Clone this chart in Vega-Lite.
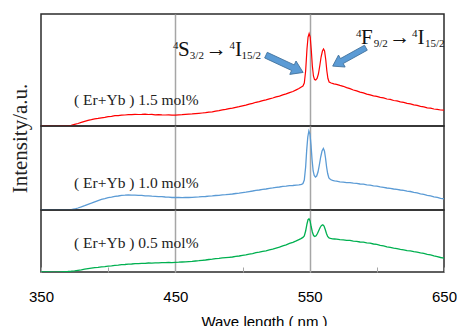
{
  "$schema": "https://vega.github.io/schema/vega-lite/v6.json",
  "padding": {"left": 8, "top": 13, "right": 0, "bottom": 0},
  "spacing": 0,
  "bounds": "flush",
  "config": {"view": {"stroke": "#2b2b2b", "strokeWidth": 1.5}, "font": "Liberation Serif"},
  "datasets": {
    "spectra": [
      {"wl":350,"I":0,"s":"1.5"},{"wl":355,"I":0.1,"s":"1.5"},{"wl":360,"I":0,"s":"1.5"},{"wl":365,"I":0.1,"s":"1.5"},{"wl":370,"I":0.3,"s":"1.5"},{"wl":372.5,"I":0.6,"s":"1.5"},{"wl":375,"I":1.6,"s":"1.5"},{"wl":377.5,"I":2.5,"s":"1.5"},{"wl":380,"I":3.6,"s":"1.5"},{"wl":382.5,"I":4.6,"s":"1.5"},{"wl":385,"I":5.6,"s":"1.5"},{"wl":387.5,"I":6.3,"s":"1.5"},{"wl":390,"I":7.1,"s":"1.5"},{"wl":392.5,"I":7.6,"s":"1.5"},{"wl":395,"I":8.2,"s":"1.5"},{"wl":397.5,"I":8.7,"s":"1.5"},{"wl":400,"I":9.3,"s":"1.5"},{"wl":402.5,"I":9.6,"s":"1.5"},{"wl":405,"I":10.3,"s":"1.5"},{"wl":407.5,"I":10.4,"s":"1.5"},{"wl":410,"I":10.9,"s":"1.5"},{"wl":412.5,"I":11.0,"s":"1.5"},{"wl":415,"I":11.4,"s":"1.5"},{"wl":417.5,"I":11.3,"s":"1.5"},{"wl":420,"I":11.7,"s":"1.5"},{"wl":422.5,"I":11.5,"s":"1.5"},{"wl":425,"I":11.6,"s":"1.5"},{"wl":427.5,"I":11.8,"s":"1.5"},{"wl":430,"I":11.5,"s":"1.5"},{"wl":432.5,"I":11.6,"s":"1.5"},{"wl":435,"I":11.2,"s":"1.5"},{"wl":437.5,"I":11.4,"s":"1.5"},{"wl":440,"I":11.1,"s":"1.5"},{"wl":442.5,"I":11.0,"s":"1.5"},{"wl":445,"I":11.2,"s":"1.5"},{"wl":447.5,"I":10.8,"s":"1.5"},{"wl":450,"I":10.9,"s":"1.5"},{"wl":452.5,"I":11.2,"s":"1.5"},{"wl":455,"I":11.3,"s":"1.5"},{"wl":457.5,"I":11.7,"s":"1.5"},{"wl":460,"I":11.9,"s":"1.5"},{"wl":462.5,"I":12.1,"s":"1.5"},{"wl":465,"I":12.4,"s":"1.5"},{"wl":467.5,"I":12.7,"s":"1.5"},{"wl":470,"I":13.0,"s":"1.5"},{"wl":472.5,"I":13.3,"s":"1.5"},{"wl":475,"I":13.9,"s":"1.5"},{"wl":477.5,"I":14.2,"s":"1.5"},{"wl":480,"I":14.9,"s":"1.5"},{"wl":482.5,"I":15.4,"s":"1.5"},{"wl":485,"I":16.1,"s":"1.5"},{"wl":487.5,"I":16.6,"s":"1.5"},{"wl":490,"I":17.4,"s":"1.5"},{"wl":492.5,"I":17.9,"s":"1.5"},{"wl":495,"I":18.7,"s":"1.5"},{"wl":497.5,"I":19.3,"s":"1.5"},{"wl":500,"I":20.1,"s":"1.5"},{"wl":502.5,"I":20.9,"s":"1.5"},{"wl":505,"I":21.9,"s":"1.5"},{"wl":507.5,"I":22.6,"s":"1.5"},{"wl":510,"I":23.7,"s":"1.5"},{"wl":512.5,"I":24.4,"s":"1.5"},{"wl":515,"I":25.4,"s":"1.5"},{"wl":517.5,"I":26.1,"s":"1.5"},{"wl":520,"I":27.1,"s":"1.5"},{"wl":522.5,"I":28.0,"s":"1.5"},{"wl":525,"I":29.1,"s":"1.5"},{"wl":527.5,"I":29.9,"s":"1.5"},{"wl":530,"I":31.1,"s":"1.5"},{"wl":532.5,"I":32.1,"s":"1.5"},{"wl":535,"I":33.4,"s":"1.5"},{"wl":537.5,"I":34.5,"s":"1.5"},{"wl":540,"I":36.1,"s":"1.5"},{"wl":542,"I":37.4,"s":"1.5"},{"wl":543.5,"I":38.8,"s":"1.5"},{"wl":545,"I":40,"s":"1.5"},{"wl":546,"I":43,"s":"1.5"},{"wl":547,"I":55,"s":"1.5"},{"wl":548,"I":77,"s":"1.5"},{"wl":548.8,"I":89,"s":"1.5"},{"wl":549.6,"I":92.5,"s":"1.5"},{"wl":550.4,"I":89,"s":"1.5"},{"wl":551.2,"I":76,"s":"1.5"},{"wl":552,"I":60,"s":"1.5"},{"wl":552.8,"I":50,"s":"1.5"},{"wl":553.6,"I":46.5,"s":"1.5"},{"wl":554.5,"I":46,"s":"1.5"},{"wl":555.5,"I":47.5,"s":"1.5"},{"wl":556.5,"I":52,"s":"1.5"},{"wl":557.5,"I":60,"s":"1.5"},{"wl":558.5,"I":69,"s":"1.5"},{"wl":559.5,"I":75,"s":"1.5"},{"wl":560.3,"I":77,"s":"1.5"},{"wl":561.1,"I":75,"s":"1.5"},{"wl":562,"I":66,"s":"1.5"},{"wl":562.8,"I":55,"s":"1.5"},{"wl":563.6,"I":47.5,"s":"1.5"},{"wl":564.5,"I":44,"s":"1.5"},{"wl":566,"I":43,"s":"1.5"},{"wl":568,"I":42.1,"s":"1.5"},{"wl":570,"I":41.6,"s":"1.5"},{"wl":572.5,"I":40.6,"s":"1.5"},{"wl":575,"I":39.7,"s":"1.5"},{"wl":577.5,"I":38.4,"s":"1.5"},{"wl":580,"I":37.4,"s":"1.5"},{"wl":582.5,"I":36.0,"s":"1.5"},{"wl":585,"I":35.1,"s":"1.5"},{"wl":587.5,"I":33.9,"s":"1.5"},{"wl":590,"I":33.1,"s":"1.5"},{"wl":592.5,"I":31.9,"s":"1.5"},{"wl":595,"I":31.1,"s":"1.5"},{"wl":597.5,"I":30.1,"s":"1.5"},{"wl":600,"I":29.6,"s":"1.5"},{"wl":602.5,"I":28.6,"s":"1.5"},{"wl":605,"I":28.1,"s":"1.5"},{"wl":607.5,"I":27.0,"s":"1.5"},{"wl":610,"I":26.6,"s":"1.5"},{"wl":612.5,"I":25.5,"s":"1.5"},{"wl":615,"I":25.1,"s":"1.5"},{"wl":617.5,"I":24.1,"s":"1.5"},{"wl":620,"I":23.6,"s":"1.5"},{"wl":622.5,"I":22.6,"s":"1.5"},{"wl":625,"I":22.1,"s":"1.5"},{"wl":627.5,"I":21.1,"s":"1.5"},{"wl":630,"I":20.6,"s":"1.5"},{"wl":632.5,"I":19.6,"s":"1.5"},{"wl":635,"I":19.1,"s":"1.5"},{"wl":637.5,"I":18.2,"s":"1.5"},{"wl":640,"I":17.8,"s":"1.5"},{"wl":642.5,"I":17.0,"s":"1.5"},{"wl":645,"I":16.6,"s":"1.5"},{"wl":647.5,"I":16.0,"s":"1.5"},{"wl":650,"I":15.8,"s":"1.5"},

      {"wl":350,"I":0,"s":"1.0"},{"wl":355,"I":0,"s":"1.0"},{"wl":360,"I":0.1,"s":"1.0"},{"wl":365,"I":0,"s":"1.0"},{"wl":370,"I":0.2,"s":"1.0"},{"wl":372.5,"I":0.4,"s":"1.0"},{"wl":375,"I":1.0,"s":"1.0"},{"wl":377.5,"I":2.0,"s":"1.0"},{"wl":380,"I":3.1,"s":"1.0"},{"wl":382.5,"I":4.3,"s":"1.0"},{"wl":385,"I":5.6,"s":"1.0"},{"wl":387.5,"I":6.8,"s":"1.0"},{"wl":390,"I":8.1,"s":"1.0"},{"wl":392.5,"I":9.4,"s":"1.0"},{"wl":395,"I":10.6,"s":"1.0"},{"wl":397.5,"I":11.4,"s":"1.0"},{"wl":400,"I":12.3,"s":"1.0"},{"wl":402.5,"I":12.9,"s":"1.0"},{"wl":405,"I":13.6,"s":"1.0"},{"wl":407.5,"I":14.0,"s":"1.0"},{"wl":410,"I":14.6,"s":"1.0"},{"wl":412.5,"I":14.8,"s":"1.0"},{"wl":415,"I":15.1,"s":"1.0"},{"wl":417.5,"I":14.9,"s":"1.0"},{"wl":420,"I":14.9,"s":"1.0"},{"wl":422.5,"I":14.6,"s":"1.0"},{"wl":425,"I":14.6,"s":"1.0"},{"wl":427.5,"I":14.2,"s":"1.0"},{"wl":430,"I":14.1,"s":"1.0"},{"wl":432.5,"I":13.8,"s":"1.0"},{"wl":435,"I":13.7,"s":"1.0"},{"wl":437.5,"I":13.4,"s":"1.0"},{"wl":440,"I":13.3,"s":"1.0"},{"wl":442.5,"I":13.0,"s":"1.0"},{"wl":445,"I":12.9,"s":"1.0"},{"wl":447.5,"I":12.5,"s":"1.0"},{"wl":450,"I":12.5,"s":"1.0"},{"wl":452.5,"I":12.7,"s":"1.0"},{"wl":455,"I":12.4,"s":"1.0"},{"wl":457.5,"I":12.6,"s":"1.0"},{"wl":460,"I":12.5,"s":"1.0"},{"wl":462.5,"I":12.7,"s":"1.0"},{"wl":465,"I":12.9,"s":"1.0"},{"wl":467.5,"I":13.1,"s":"1.0"},{"wl":470,"I":13.4,"s":"1.0"},{"wl":472.5,"I":13.5,"s":"1.0"},{"wl":475,"I":13.9,"s":"1.0"},{"wl":477.5,"I":14.1,"s":"1.0"},{"wl":480,"I":14.5,"s":"1.0"},{"wl":482.5,"I":14.7,"s":"1.0"},{"wl":485,"I":15.1,"s":"1.0"},{"wl":487.5,"I":15.3,"s":"1.0"},{"wl":490,"I":15.7,"s":"1.0"},{"wl":492.5,"I":16.0,"s":"1.0"},{"wl":495,"I":16.5,"s":"1.0"},{"wl":497.5,"I":16.8,"s":"1.0"},{"wl":500,"I":17.3,"s":"1.0"},{"wl":502.5,"I":17.8,"s":"1.0"},{"wl":505,"I":18.4,"s":"1.0"},{"wl":507.5,"I":19.0,"s":"1.0"},{"wl":510,"I":19.7,"s":"1.0"},{"wl":512.5,"I":20.0,"s":"1.0"},{"wl":515,"I":20.7,"s":"1.0"},{"wl":517.5,"I":21.0,"s":"1.0"},{"wl":520,"I":21.6,"s":"1.0"},{"wl":522.5,"I":22.1,"s":"1.0"},{"wl":525,"I":22.7,"s":"1.0"},{"wl":527.5,"I":23.0,"s":"1.0"},{"wl":530,"I":23.6,"s":"1.0"},{"wl":532.5,"I":23.8,"s":"1.0"},{"wl":535,"I":24.3,"s":"1.0"},{"wl":537.5,"I":24.5,"s":"1.0"},{"wl":540,"I":24.9,"s":"1.0"},{"wl":542,"I":25.2,"s":"1.0"},{"wl":544,"I":25.6,"s":"1.0"},{"wl":545,"I":26.5,"s":"1.0"},{"wl":546,"I":30,"s":"1.0"},{"wl":547,"I":43,"s":"1.0"},{"wl":547.8,"I":60,"s":"1.0"},{"wl":548.6,"I":73,"s":"1.0"},{"wl":549.4,"I":79,"s":"1.0"},{"wl":550.2,"I":76,"s":"1.0"},{"wl":551,"I":65,"s":"1.0"},{"wl":551.8,"I":50,"s":"1.0"},{"wl":552.6,"I":39,"s":"1.0"},{"wl":553.4,"I":34.5,"s":"1.0"},{"wl":554.3,"I":33,"s":"1.0"},{"wl":555.2,"I":34,"s":"1.0"},{"wl":556.2,"I":38,"s":"1.0"},{"wl":557.2,"I":45,"s":"1.0"},{"wl":558.2,"I":53,"s":"1.0"},{"wl":559.2,"I":59,"s":"1.0"},{"wl":560.2,"I":61.5,"s":"1.0"},{"wl":561,"I":59,"s":"1.0"},{"wl":561.8,"I":52,"s":"1.0"},{"wl":562.6,"I":43,"s":"1.0"},{"wl":563.4,"I":36.5,"s":"1.0"},{"wl":564.3,"I":32,"s":"1.0"},{"wl":565.5,"I":30.5,"s":"1.0"},{"wl":567,"I":29.6,"s":"1.0"},{"wl":568.5,"I":29.1,"s":"1.0"},{"wl":570,"I":28.8,"s":"1.0"},{"wl":572.5,"I":28.2,"s":"1.0"},{"wl":575,"I":27.9,"s":"1.0"},{"wl":577.5,"I":27.4,"s":"1.0"},{"wl":580,"I":27.4,"s":"1.0"},{"wl":582.5,"I":26.8,"s":"1.0"},{"wl":585,"I":26.6,"s":"1.0"},{"wl":587.5,"I":26.0,"s":"1.0"},{"wl":590,"I":25.8,"s":"1.0"},{"wl":592.5,"I":25.1,"s":"1.0"},{"wl":595,"I":24.9,"s":"1.0"},{"wl":597.5,"I":24.2,"s":"1.0"},{"wl":600,"I":23.9,"s":"1.0"},{"wl":602.5,"I":23.1,"s":"1.0"},{"wl":605,"I":22.7,"s":"1.0"},{"wl":607.5,"I":22.0,"s":"1.0"},{"wl":610,"I":21.7,"s":"1.0"},{"wl":612.5,"I":21.0,"s":"1.0"},{"wl":615,"I":20.7,"s":"1.0"},{"wl":617.5,"I":20.0,"s":"1.0"},{"wl":620,"I":19.7,"s":"1.0"},{"wl":622.5,"I":18.9,"s":"1.0"},{"wl":625,"I":18.5,"s":"1.0"},{"wl":627.5,"I":17.6,"s":"1.0"},{"wl":630,"I":17.1,"s":"1.0"},{"wl":632.5,"I":16.2,"s":"1.0"},{"wl":635,"I":15.6,"s":"1.0"},{"wl":637.5,"I":14.7,"s":"1.0"},{"wl":640,"I":14.1,"s":"1.0"},{"wl":642.5,"I":13.2,"s":"1.0"},{"wl":645,"I":12.6,"s":"1.0"},{"wl":647.5,"I":11.7,"s":"1.0"},{"wl":650,"I":11.1,"s":"1.0"},

      {"wl":350,"I":0,"s":"0.5"},{"wl":355,"I":0,"s":"0.5"},{"wl":360,"I":-0.1,"s":"0.5"},{"wl":365,"I":0.2,"s":"0.5"},{"wl":370,"I":0.5,"s":"0.5"},{"wl":372.5,"I":0.8,"s":"0.5"},{"wl":375,"I":1.2,"s":"0.5"},{"wl":377.5,"I":1.7,"s":"0.5"},{"wl":380,"I":2.2,"s":"0.5"},{"wl":382.5,"I":2.8,"s":"0.5"},{"wl":385,"I":3.3,"s":"0.5"},{"wl":387.5,"I":3.8,"s":"0.5"},{"wl":390,"I":4.3,"s":"0.5"},{"wl":392.5,"I":4.6,"s":"0.5"},{"wl":395,"I":5.1,"s":"0.5"},{"wl":397.5,"I":5.4,"s":"0.5"},{"wl":400,"I":5.9,"s":"0.5"},{"wl":402.5,"I":6.1,"s":"0.5"},{"wl":405,"I":6.6,"s":"0.5"},{"wl":407.5,"I":6.8,"s":"0.5"},{"wl":410,"I":7.3,"s":"0.5"},{"wl":412.5,"I":7.5,"s":"0.5"},{"wl":415,"I":7.9,"s":"0.5"},{"wl":417.5,"I":8.0,"s":"0.5"},{"wl":420,"I":8.4,"s":"0.5"},{"wl":422.5,"I":8.4,"s":"0.5"},{"wl":425,"I":8.7,"s":"0.5"},{"wl":427.5,"I":8.7,"s":"0.5"},{"wl":430,"I":9.0,"s":"0.5"},{"wl":432.5,"I":8.9,"s":"0.5"},{"wl":435,"I":9.2,"s":"0.5"},{"wl":437.5,"I":9.1,"s":"0.5"},{"wl":440,"I":9.4,"s":"0.5"},{"wl":442.5,"I":9.3,"s":"0.5"},{"wl":445,"I":9.5,"s":"0.5"},{"wl":447.5,"I":9.4,"s":"0.5"},{"wl":450,"I":9.7,"s":"0.5"},{"wl":452.5,"I":9.8,"s":"0.5"},{"wl":455,"I":10.0,"s":"0.5"},{"wl":457.5,"I":10.1,"s":"0.5"},{"wl":460,"I":10.4,"s":"0.5"},{"wl":462.5,"I":10.6,"s":"0.5"},{"wl":465,"I":11.0,"s":"0.5"},{"wl":467.5,"I":11.3,"s":"0.5"},{"wl":470,"I":11.7,"s":"0.5"},{"wl":472.5,"I":12.0,"s":"0.5"},{"wl":475,"I":12.5,"s":"0.5"},{"wl":477.5,"I":12.8,"s":"0.5"},{"wl":480,"I":13.4,"s":"0.5"},{"wl":482.5,"I":13.6,"s":"0.5"},{"wl":485,"I":14.1,"s":"0.5"},{"wl":487.5,"I":14.4,"s":"0.5"},{"wl":490,"I":14.7,"s":"0.5"},{"wl":492.5,"I":15.0,"s":"0.5"},{"wl":495,"I":15.6,"s":"0.5"},{"wl":497.5,"I":16.0,"s":"0.5"},{"wl":500,"I":16.7,"s":"0.5"},{"wl":502.5,"I":17.1,"s":"0.5"},{"wl":505,"I":17.9,"s":"0.5"},{"wl":507.5,"I":18.4,"s":"0.5"},{"wl":510,"I":19.3,"s":"0.5"},{"wl":512.5,"I":19.8,"s":"0.5"},{"wl":515,"I":20.7,"s":"0.5"},{"wl":517.5,"I":21.2,"s":"0.5"},{"wl":520,"I":22.1,"s":"0.5"},{"wl":522.5,"I":22.8,"s":"0.5"},{"wl":525,"I":23.9,"s":"0.5"},{"wl":527.5,"I":24.8,"s":"0.5"},{"wl":530,"I":26.1,"s":"0.5"},{"wl":532.5,"I":27.1,"s":"0.5"},{"wl":535,"I":28.6,"s":"0.5"},{"wl":537.5,"I":29.6,"s":"0.5"},{"wl":540,"I":31.1,"s":"0.5"},{"wl":542,"I":32.4,"s":"0.5"},{"wl":543.5,"I":33.4,"s":"0.5"},{"wl":545,"I":34.6,"s":"0.5"},{"wl":546,"I":36,"s":"0.5"},{"wl":547,"I":41,"s":"0.5"},{"wl":548,"I":48,"s":"0.5"},{"wl":548.8,"I":52.5,"s":"0.5"},{"wl":549.5,"I":53.3,"s":"0.5"},{"wl":550.3,"I":51,"s":"0.5"},{"wl":551.1,"I":45.5,"s":"0.5"},{"wl":552,"I":40,"s":"0.5"},{"wl":552.9,"I":36.5,"s":"0.5"},{"wl":553.8,"I":35.5,"s":"0.5"},{"wl":554.8,"I":36.2,"s":"0.5"},{"wl":555.8,"I":38.5,"s":"0.5"},{"wl":556.8,"I":41.5,"s":"0.5"},{"wl":557.8,"I":44.5,"s":"0.5"},{"wl":558.8,"I":46.5,"s":"0.5"},{"wl":559.8,"I":47.2,"s":"0.5"},{"wl":560.7,"I":46,"s":"0.5"},{"wl":561.6,"I":42.5,"s":"0.5"},{"wl":562.5,"I":38.5,"s":"0.5"},{"wl":563.4,"I":35.5,"s":"0.5"},{"wl":564.4,"I":34,"s":"0.5"},{"wl":565.5,"I":33.6,"s":"0.5"},{"wl":567,"I":33.2,"s":"0.5"},{"wl":568.5,"I":33.0,"s":"0.5"},{"wl":570,"I":32.8,"s":"0.5"},{"wl":572.5,"I":32.3,"s":"0.5"},{"wl":575,"I":32.1,"s":"0.5"},{"wl":577.5,"I":31.6,"s":"0.5"},{"wl":580,"I":31.6,"s":"0.5"},{"wl":582.5,"I":30.9,"s":"0.5"},{"wl":585,"I":30.6,"s":"0.5"},{"wl":587.5,"I":30.0,"s":"0.5"},{"wl":590,"I":29.9,"s":"0.5"},{"wl":592.5,"I":29.2,"s":"0.5"},{"wl":595,"I":28.9,"s":"0.5"},{"wl":597.5,"I":28.0,"s":"0.5"},{"wl":600,"I":27.6,"s":"0.5"},{"wl":602.5,"I":26.7,"s":"0.5"},{"wl":605,"I":26.1,"s":"0.5"},{"wl":607.5,"I":25.2,"s":"0.5"},{"wl":610,"I":24.6,"s":"0.5"},{"wl":612.5,"I":23.8,"s":"0.5"},{"wl":615,"I":23.4,"s":"0.5"},{"wl":617.5,"I":22.6,"s":"0.5"},{"wl":620,"I":22.1,"s":"0.5"},{"wl":622.5,"I":21.4,"s":"0.5"},{"wl":625,"I":21.1,"s":"0.5"},{"wl":627.5,"I":20.3,"s":"0.5"},{"wl":630,"I":19.9,"s":"0.5"},{"wl":632.5,"I":19.1,"s":"0.5"},{"wl":635,"I":18.6,"s":"0.5"},{"wl":637.5,"I":17.7,"s":"0.5"},{"wl":640,"I":17.1,"s":"0.5"},{"wl":642.5,"I":16.2,"s":"0.5"},{"wl":645,"I":15.4,"s":"0.5"},{"wl":647.5,"I":14.5,"s":"0.5"},{"wl":650,"I":13.8,"s":"0.5"}
    ]
  },
  "vconcat": [
    {
      "width": 403,
      "height": 112,
      "encoding": {
        "x": {"field": "wl", "type": "quantitative", "scale": {"domain": [350, 650], "nice": false, "zero": false},
              "axis": {"values": [450, 550], "labels": false, "ticks": false, "domain": false, "grid": true, "gridColor": "#a6a6a6", "gridWidth": 1.5, "title": null}},
        "y": {"field": "I", "type": "quantitative", "scale": {"domain": [0, 112], "nice": false, "zero": false}, "axis": null}
      },
      "layer": [
        {
          "data": {"name": "spectra"},
          "transform": [{"filter": "datum.s === '1.5'"}],
          "mark": {"type": "line", "color": "#ff0000", "strokeWidth": 1.2, "clip": true}
        },
        {
          "data": {"values": [{"wl": 374.6, "I": 26, "t": "( Er+Yb ) 1.5 mol%"}]},
          "mark": {"type": "text", "align": "left", "baseline": "middle", "font": "Liberation Serif", "fontSize": 15.5, "color": "#222"},
          "encoding": {"text": {"field": "t"}}
        },
        {
          "data": {"values": [
            {"wl": 452.0, "I": 70, "t": "S"}, {"wl": 472.6, "I": 70.5, "t": "→"}, {"wl": 494.4, "I": 70, "t": "I"},
            {"wl": 588.2, "I": 81.7, "t": "F"}, {"wl": 609.2, "I": 82.2, "t": "→"}, {"wl": 630.3, "I": 81.7, "t": "I"}
          ]},
          "mark": {"type": "text", "align": "left", "baseline": "alphabetic", "font": "Liberation Serif", "fontSize": 21, "color": "#111"},
          "encoding": {"text": {"field": "t"}}
        },
        {
          "data": {"values": [
            {"wl": 448.3, "I": 77.5, "t": "4"}, {"wl": 490.3, "I": 77.5, "t": "4"},
            {"wl": 584.5, "I": 89.2, "t": "4"}, {"wl": 626.2, "I": 89.2, "t": "4"}
          ]},
          "mark": {"type": "text", "align": "left", "baseline": "alphabetic", "font": "Liberation Serif", "fontSize": 11, "color": "#111"},
          "encoding": {"text": {"field": "t"}}
        },
        {
          "data": {"values": [
            {"wl": 460.8, "I": 67, "t": "3/2"}, {"wl": 499.2, "I": 67, "t": "15/2"},
            {"wl": 597.7, "I": 78.7, "t": "9/2"}, {"wl": 635.8, "I": 78.7, "t": "15/2"}
          ]},
          "mark": {"type": "text", "align": "left", "baseline": "alphabetic", "font": "Liberation Serif", "fontSize": 11, "color": "#111"},
          "encoding": {"text": {"field": "t"}}
        },
        {
          "data": {"values": [{"wl": 531.3, "I": 62.2}]},
          "mark": {"type": "point", "shape": "M-1,-0.15L0.45,-0.15L0.45,-0.36L1,0L0.45,0.36L0.45,0.15L-1,0.15Z", "size": 1681, "angle": 25, "filled": true, "fill": "#5b9bd5", "stroke": "#41719c", "strokeWidth": 0.8, "opacity": 1}
        },
        {
          "data": {"values": [{"wl": 579.5, "I": 69.1}]},
          "mark": {"type": "point", "shape": "M-1,-0.15L0.45,-0.15L0.45,-0.36L1,0L0.45,0.36L0.45,0.15L-1,0.15Z", "size": 1444, "angle": 151, "filled": true, "fill": "#5b9bd5", "stroke": "#41719c", "strokeWidth": 0.8, "opacity": 1}
        }
      ]
    },
    {
      "width": 403,
      "height": 84,
      "encoding": {
        "x": {"field": "wl", "type": "quantitative", "scale": {"domain": [350, 650], "nice": false, "zero": false},
              "axis": {"values": [450, 550], "labels": false, "ticks": false, "domain": false, "grid": true, "gridColor": "#a6a6a6", "gridWidth": 1.5, "title": null}},
        "y": {"field": "I", "type": "quantitative", "scale": {"domain": [0, 84], "nice": false, "zero": false},
              "axis": {"labels": false, "ticks": false, "domain": false, "grid": false, "title": "Intensity/a.u.", "titleFont": "Liberation Serif", "titleFontSize": 21, "titleFontWeight": "normal", "titleColor": "#222", "titleX": -15, "titleY": 12, "titleBaseline": "alphabetic", "titleAlign": "center", "titleAngle": -90}}
      },
      "layer": [
        {
          "data": {"name": "spectra"},
          "transform": [{"filter": "datum.s === '1.0'"}],
          "mark": {"type": "line", "color": "#5b9bd5", "strokeWidth": 1.3, "clip": true}
        },
        {
          "data": {"values": [{"wl": 374.6, "I": 27, "t": "( Er+Yb ) 1.0 mol%"}]},
          "mark": {"type": "text", "align": "left", "baseline": "middle", "font": "Liberation Serif", "fontSize": 15.5, "color": "#222"},
          "encoding": {"text": {"field": "t"}}
        }
      ]
    },
    {
      "width": 403,
      "height": 62,
      "encoding": {
        "x": {"field": "wl", "type": "quantitative", "scale": {"domain": [350, 650], "nice": false, "zero": false},
              "axis": {"values": [350, 400, 450, 500, 550, 600, 650], "labelExpr": "datum.value % 100 == 50 ? datum.label : ''",
                       "ticks": true, "tickSize": -5, "tickColor": "#a6a6a6", "tickWidth": 1, "domain": false,
                       "grid": true, "gridColor": "#a6a6a6", "gridWidth": 1.5,
                       "gridOpacity": {"condition": {"test": "datum.value === 450 || datum.value === 550", "value": 1}, "value": 0},
                       "labelFont": "Liberation Sans", "labelFontSize": 15, "labelColor": "#000", "labelPadding": 22, "labelFlush": false,
                       "title": "Wave length ( nm )", "titleFont": "Liberation Sans", "titleFontSize": 15, "titleFontWeight": "normal", "titleColor": "#000",
                       "titleX": 223, "titleY": 42, "titleBaseline": "top", "titleAlign": "center"}},
        "y": {"field": "I", "type": "quantitative", "scale": {"domain": [0, 62], "nice": false, "zero": false}, "axis": null}
      },
      "layer": [
        {
          "data": {"name": "spectra"},
          "transform": [{"filter": "datum.s === '0.5'"}],
          "mark": {"type": "line", "color": "#00b050", "strokeWidth": 1.3, "clip": true}
        },
        {
          "data": {"values": [{"wl": 374.6, "I": 29, "t": "( Er+Yb ) 0.5 mol%"}]},
          "mark": {"type": "text", "align": "left", "baseline": "middle", "font": "Liberation Serif", "fontSize": 15.5, "color": "#222"},
          "encoding": {"text": {"field": "t"}}
        }
      ]
    }
  ]
}
